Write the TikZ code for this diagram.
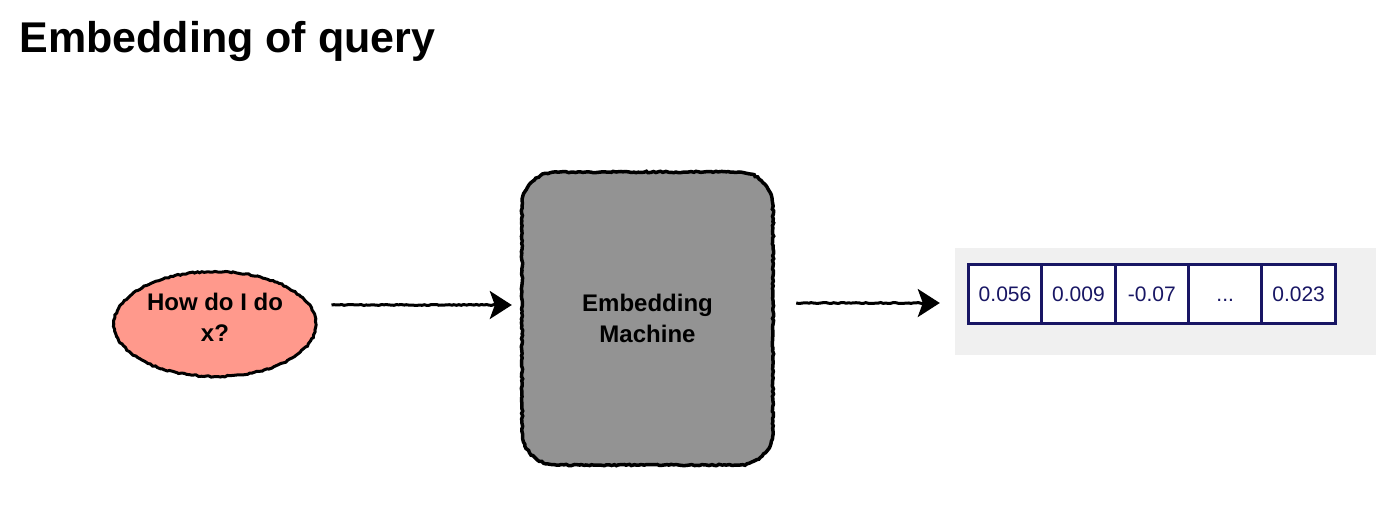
\documentclass[tikz,border=0pt]{standalone}
\usepackage{fontspec}
\setmainfont{Liberation Sans}
\usetikzlibrary{positioning,arrows.meta,shapes.geometric,decorations.pathmorphing,calc}
\definecolor{salmon}{RGB}{255,153,140}
\definecolor{machinegray}{RGB}{147,147,147}
\definecolor{vecnavy}{RGB}{24,22,100}
\definecolor{panelgray}{RGB}{240,240,240}
\tikzset{
  >=Stealth,
  rough/.style={decorate, decoration={random steps, segment length=2.5pt, amplitude=0.7pt}},
}

\begin{document}
\begin{tikzpicture}[
  x=1pt, y=-1pt,
  query/.style={ellipse, draw, rough, line width=3pt, fill=salmon, minimum width=202pt,
    minimum height=105pt, inner sep=0pt, align=center, text depth=13pt,
    font=\fontsize{24}{31}\selectfont\bfseries},
  machine/.style={rectangle, minimum width=251pt, minimum height=293pt, inner sep=0pt,
    align=center, font=\fontsize{24}{31}\selectfont\bfseries},
  cell/.style={rectangle, draw=vecnavy, line width=3pt, fill=white, text=vecnavy, outer sep=0pt,
    minimum width=73.4pt, minimum height=59pt, inner sep=0pt, text height=20pt, text depth=4pt,
    font=\fontsize{21}{25}\selectfont},
  flow/.style={line width=3pt, decorate,
    decoration={random steps, segment length=2.5pt, amplitude=0.5pt, post length=8pt},
    arrows={-Stealth[length=22pt, width=28pt, inset=5pt]}},
]
\useasboundingbox (0,0) rectangle (1400,506);

\node[anchor=base west, font=\fontsize{43}{50}\selectfont\bfseries] (title) at (16,52) {Embedding of query};

\node[query] (q) at (215,324) {How do I do\\x?};

% machine box, rough rounded outline
\draw[rough, line width=3.5pt, fill=machinegray]
  (522,206) arc[start angle=180, end angle=270, radius=34] -- (739,172)
  arc[start angle=270, end angle=360, radius=34] -- (773,431)
  arc[start angle=0, end angle=90, radius=34] -- (556,465)
  arc[start angle=90, end angle=180, radius=34] -- cycle;
\node[machine] (m) at (647.5,318.5) {Embedding\\Machine};

% output vector
\node[fill=panelgray, minimum width=421pt, minimum height=107pt, inner sep=0pt] (panel) at (1165.5,301.5) {};
\node[cell] (c1) at (1005,293.5) {0.056};
\node[cell, right=0pt of c1] (c2) {0.009};
\node[cell, right=0pt of c2] (c3) {-0.07};
\node[cell, right=0pt of c3] (c4) {...};
\node[cell, right=0pt of c4] (c5) {0.023};

\coordinate (a1) at (0,305);
\coordinate (a2) at (0,303);
\draw[flow] ($(q.east |- a1)+(14,0)$) -- ($(m.west |- a1)+(-10,0)$);
\draw[flow] ($(m.east |- a2)+(23,0)$) -- ($(panel.west |- a2)+(-15,0)$);
\end{tikzpicture}
\end{document}
